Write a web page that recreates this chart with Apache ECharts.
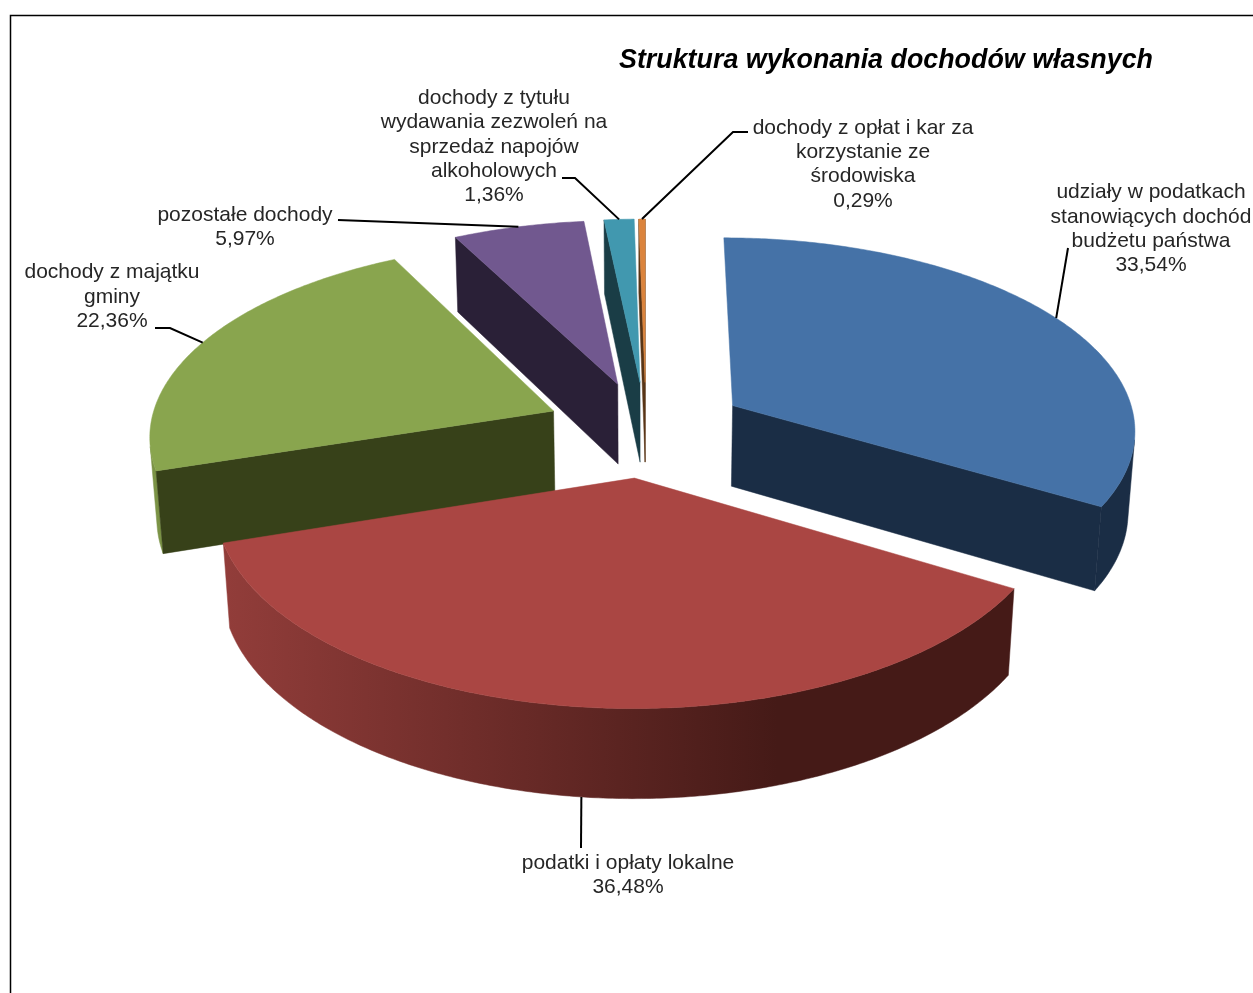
<!DOCTYPE html>
<html><head><meta charset="utf-8">
<style>html,body{margin:0;padding:0;background:#fff;overflow:hidden}#c{width:1253px;height:993px}</style>
<script src="https://cdn.jsdelivr.net/npm/echarts@6/dist/echarts.min.js"></script>
</head><body><div id="c"></div>
<script>
const titleText = 'Struktura wykonania dochodów własnych';
const categories = [
  'udziały w podatkach\nstanowiących dochód\nbudżetu państwa',
  'podatki i opłaty lokalne',
  'dochody z majątku\ngminy',
  'pozostałe dochody',
  'dochody z tytułu\nwydawania zezwoleń na\nsprzedaż napojów\nalkoholowych',
  'dochody z opłat i kar za\nkorzystanie ze\nśrodowiska'
];
const values = [33.54, 36.48, 22.36, 5.97, 1.36, 0.29];
const topColors = ['#4572A7', '#AA4643', '#89A54E', '#71588F', '#4198AF', '#DB843D'];
const sideColors = ['#1A2D45', '#451A17', '#374119', '#2A2037', '#1A3D46', '#583516'];
const wallColors = ['#1A2D45', null, '#7B9346', '#2A2037', '#1A3D46', '#583516'];
const redWallStops = ['#923D3A', '#451A17'];

// layout of the drawing
const labelPos = [[1151, 229], [628, 875], [112, 297], [245, 227], [494, 147], [863, 164.5]];
const labelElbows = [
  [[1068, 248]],
  [[581, 848]],
  [[155, 328], [170, 328]],
  [[338, 220]],
  [[562, 178], [575, 178]],
  [[748, 132], [733, 132]]
];
const view = {cx: 646, cy: 429, focal: 3112, dist: 7.7, sinE: 0.475, cosE: 0.88, explode: 0.25, height: 0.232};
const total = values.reduce((a, b) => a + b, 0);

function project(X, Y, Z) {
  const zc = view.dist + Y * view.cosE - Z * view.sinE;
  const yc = Y * view.sinE + Z * view.cosE;
  return [view.cx + view.focal * X / zc, view.cy - view.focal * yc / zc];
}
function sliceAngles(i) {
  let before = 0;
  for (let k = 0; k < i; k++) before += values[k];
  return [before / total * 2 * Math.PI, (before + values[i]) / total * 2 * Math.PI];
}
function apexOf(i) {
  const [a, b] = sliceAngles(i), m = (a + b) / 2;
  return [view.explode * Math.sin(m), view.explode * Math.cos(m)];
}
function rimPoint(i, t, Z) {
  const p = apexOf(i);
  return [p[0] + Math.sin(t), p[1] + Math.cos(t), Z];
}
const cam = [0, -view.dist * view.cosE, view.dist * view.sinE];
function facing(P, n) {
  return (cam[0] - P[0]) * n[0] + (cam[1] - P[1]) * n[1] > 0;
}
function poly(points, fill, z2) {
  return {type: 'polygon', z2: z2, silent: true, shape: {points: points}, style: {fill: fill, stroke: fill, lineWidth: 0.5}};
}
function renderSlice(params, api) {
  const i = params.dataIndex, v = api.value(0);
  const [a, b] = sliceAngles(i);
  const apex = apexOf(i), h = view.height;
  const base = Math.round((1.5 - apex[1]) * 100);
  const side = sideColors[i];
  const kids = [];
  const steps = Math.max(8, Math.round(v * 6));
  const angs = [];
  for (let k = 0; k <= steps; k++) angs.push(a + (b - a) * k / steps);

  // side wall: only the stretch of rim that faces the viewer
  const vis = angs.filter(t => facing(rimPoint(i, t, 0), [Math.sin(t), Math.cos(t)]));
  if (vis.length > 1) {
    const up = vis.map(t => project(...rimPoint(i, t, 0)));
    const dn = vis.map(t => project(...rimPoint(i, t, -h))).reverse();
    const pts = up.concat(dn);
    const xs = pts.map(p => p[0]);
    const fill = i === 1 ? {
      type: 'linear', global: true, x: Math.min(...xs), y: 0, x2: Math.max(...xs), y2: 0,
      colorStops: [{offset: 0, color: redWallStops[0]}, {offset: 0.7, color: redWallStops[1]}, {offset: 1, color: redWallStops[1]}]
    } : wallColors[i];
    kids.push(poly(pts, fill, base));
  }
  // cut faces (the first slice's start face is edge-on in the reference)
  [[a, -1], [b, 1]].forEach(([t, dir], idx) => {
    if (i === 0 && idx === 0) return;
    const n = [dir * Math.cos(t), -dir * Math.sin(t)];
    if (!facing([apex[0], apex[1]], n)) return;
    const r = rimPoint(i, t, 0);
    kids.push(poly([
      project(apex[0], apex[1], 0), project(r[0], r[1], 0),
      project(r[0], r[1], -h), project(apex[0], apex[1], -h)
    ], side, base));
  });
  // top face
  const top = [project(apex[0], apex[1], 0)].concat(angs.map(t => project(...rimPoint(i, t, 0))));
  kids.push(poly(top, topColors[i], base + 1));

  // leader line to the middle of the slice's rim
  const mid = (a + b) / 2;
  const end = project(...rimPoint(i, mid, i === 1 ? -h : 0));
  kids.push({type: 'polyline', z2: 1000, silent: true,
    shape: {points: labelElbows[i].concat([end])},
    style: {stroke: '#000', lineWidth: 2, fill: null}});
  // label
  const pct = v.toFixed(2).replace('.', ',') + '%';
  kids.push({type: 'text', z2: 1001, silent: true, x: labelPos[i][0], y: labelPos[i][1],
    style: {text: categories[i] + '\n' + pct, fill: '#262626', align: 'center', verticalAlign: 'middle',
      font: '21px "Liberation Sans", Arial, sans-serif', lineHeight: 24.3}});
  return {type: 'group', children: kids};
}

const chart = echarts.init(document.getElementById('c'), null, {renderer: 'canvas', width: 1253, height: 993});
chart.setOption({
  animation: false,
  backgroundColor: '#fff',
  title: {text: titleText, left: 614, top: 42,
    textStyle: {fontFamily: '"Liberation Sans", Arial, sans-serif', fontSize: 26.85, fontWeight: 'bold', fontStyle: 'italic', color: '#000'}},
  graphic: [{type: 'rect', silent: true, z: -1,
    shape: {x: 10.5, y: 15.5, width: 1300, height: 1100},
    style: {fill: '#fff', stroke: '#000', lineWidth: 1.5}}],
  series: [{type: 'custom', coordinateSystem: 'none', clip: false, silent: true,
    data: values.map(v => [v]), renderItem: renderSlice}]
});
</script></body></html>
